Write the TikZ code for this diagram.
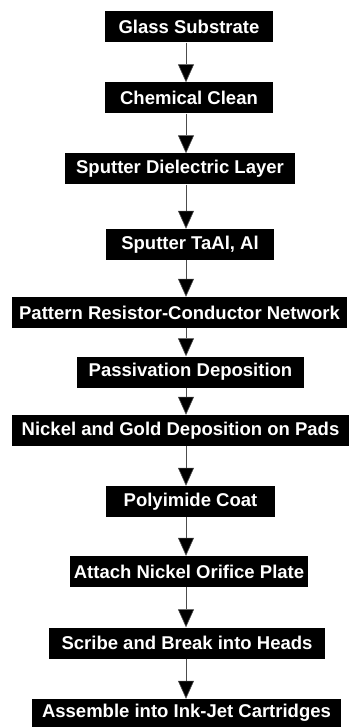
\documentclass[tikz,border=0pt]{standalone}
\usepackage{fontspec}
\setmainfont{Liberation Sans}
\usetikzlibrary{arrows.meta,positioning,calc}

\begin{document}
\begin{tikzpicture}[x=1pt, y=-1pt,
    box/.style={fill=black, text=white, inner sep=0pt, minimum height=31pt, font=\fontsize{18.5}{20}\selectfont\bfseries},
    flow/.style={draw=black!70, line width=0.6pt, -{Triangle[width=16pt,length=18pt,fill=black]}}]

  \useasboundingbox (0,0) rectangle (349,727);
  \coordinate (spine) at (186,0);

  \node[box, minimum width=168pt] (glass) at (189,27) {Glass Substrate};
  \node[box, minimum width=168pt] (clean) at (189,98) {Chemical Clean};
  \node[box, minimum width=230pt] (dielec) at (180,169) {Sputter Dielectric Layer};
  \node[box, minimum width=168pt] (taal) at (190,244.5) {Sputter TaAl, Al};
  \node[box, minimum width=335pt] (pattern) at (179.5,312.5) {Pattern Resistor-Conductor Network};
  \node[box, minimum width=227pt] (passiv) at (190.5,372) {Passivation Deposition};
  \node[box, minimum width=337pt] (nigold) at (180.5,430.5) {Nickel and Gold Deposition on Pads};
  \node[box, minimum width=169pt] (polyim) at (190.5,501.5) {Polyimide Coat};
  \node[box, minimum width=238pt] (orifice) at (189,571.5) {Attach Nickel Orifice Plate};
  \node[box, minimum width=276pt] (scribe) at (187,643) {Scribe and Break into Heads};
  \node[box, minimum width=309pt, minimum height=28pt] (assemble) at (186.5,713) {Assemble into Ink-Jet Cartridges};

  \draw[flow] (glass.south -| spine) -- (clean.north -| spine);
  \draw[flow] (clean.south -| spine) -- (dielec.north -| spine);
  \draw[flow] (dielec.south -| spine) -- (taal.north -| spine);
  \draw[flow] (taal.south -| spine) -- (pattern.north -| spine);
  \draw[flow] (pattern.south -| spine) -- (passiv.north -| spine);
  \draw[flow] (passiv.south -| spine) -- (nigold.north -| spine);
  \draw[flow] (nigold.south -| spine) -- (polyim.north -| spine);
  \draw[flow] (polyim.south -| spine) -- (orifice.north -| spine);
  \draw[flow] (orifice.south -| spine) -- (scribe.north -| spine);
  \draw[flow] (scribe.south -| spine) -- (assemble.north -| spine);
\end{tikzpicture}
\end{document}
